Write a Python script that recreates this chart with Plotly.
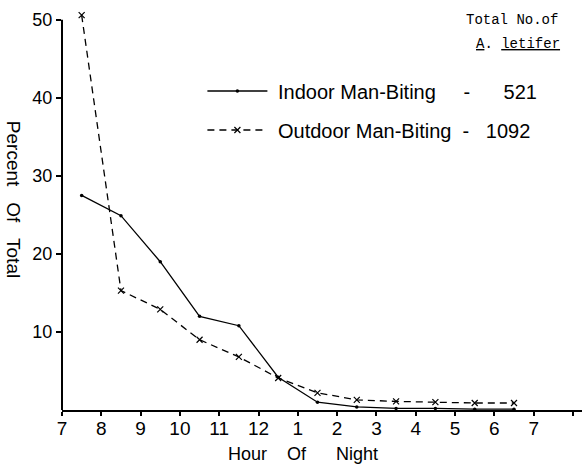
import plotly.graph_objects as go

# hours after 7 pm (half-hour midpoints)
hour_pos = [0.5, 1.5, 2.5, 3.5, 4.5, 5.5, 6.5, 7.5, 8.5, 9.5, 10.5, 11.5]
indoor = [27.5, 24.9, 19.0, 12.0, 10.8, 4.2, 1.0, 0.4, 0.2, 0.2, 0.1, 0.1]
outdoor = [50.6, 15.3, 12.9, 9.0, 6.8, 4.1, 2.2, 1.3, 1.1, 1.0, 0.9, 0.9]

tick_pos = list(range(14))
tick_text = ["7", "8", "9", "10", "11", "12", "1", "2", "3", "4", "5", "6", "7", ""]
y_ticks = [10, 20, 30, 40, 50]

NB = "\u00a0"
indoor_name = NB * 1 + "Indoor Man-Biting" + NB * 5 + "-" + NB * 6 + "521"
outdoor_name = NB * 1 + "Outdoor Man-Biting" + NB * 2 + "-" + NB * 3 + "1092"

FONT = "Liberation Sans"

fig = go.Figure()
fig.add_trace(go.Scatter(
    x=hour_pos, y=indoor, name=indoor_name, mode="lines+markers",
    line=dict(color="black", width=1.3, dash="solid"),
    marker=dict(symbol="circle", size=3.5, color="black"),
    cliponaxis=False, legend="legend",
))
fig.add_trace(go.Scatter(
    x=hour_pos, y=outdoor, name=outdoor_name, mode="lines+markers",
    line=dict(color="black", width=1.3, dash="7px,5px"),
    marker=dict(symbol="x-thin", size=6, color="black", line=dict(width=1.2, color="black")),
    cliponaxis=False, legend="legend2",
))

fig.update_layout(
    width=582, height=464,
    margin=dict(l=62, r=0, t=12, b=54),
    paper_bgcolor="white", plot_bgcolor="white",
    font=dict(family=FONT, size=18, color="black"),
    xaxis=dict(
        range=[0, 13.23], tickvals=tick_pos, ticktext=tick_text,
        showgrid=False, zeroline=False, showline=True, linecolor="black", linewidth=2,
        ticks="outside", ticklen=4, tickwidth=1.5, tickcolor="black",
        ticklabelstandoff=-4,
        tickfont=dict(family=FONT, size=19),
    ),
    yaxis=dict(
        range=[0, 51], tickvals=y_ticks,
        showgrid=False, zeroline=False, showline=False,
        ticks="outside", ticklen=5, tickwidth=1.5, tickcolor="black",
        tickfont=dict(family=FONT, size=18),
    ),
    legend=dict(x=0.27, y=0.8015, xanchor="left", yanchor="middle", bgcolor="rgba(0,0,0,0)",
                itemwidth=60, font=dict(family=FONT, size=20)),
    legend2=dict(x=0.27, y=0.7035, xanchor="left", yanchor="middle", bgcolor="rgba(0,0,0,0)",
                 itemwidth=60, font=dict(family=FONT, size=20)),
    showlegend=True,
)

# y axis line (stops at 50, like the original)
fig.add_shape(type="line", xref="paper", yref="y", x0=0, x1=0, y0=0, y1=50,
              line=dict(color="black", width=2))

fig.add_annotation(text="Percent" + NB * 3 + "Of" + NB * 3 + "Total", textangle=90,
                   xref="paper", yref="paper",
                   x=-0.092, y=(410 - 199) / 398, xanchor="center", yanchor="middle",
                   showarrow=False, font=dict(family=FONT, size=19))
fig.add_annotation(text="Hour" + NB * 4 + "Of" + NB * 6 + "Night", xref="paper", yref="paper",
                   x=(303 - 62) / 520, y=-44 / 398, xanchor="center", yanchor="middle",
                   showarrow=False, font=dict(family=FONT, size=18))
fig.add_annotation(text="Total No.of", xref="paper", yref="paper", x=0.957, y=(410 - 20) / 398,
                   xanchor="right", yanchor="middle", showarrow=False,
                   font=dict(family="Liberation Mono", size=14))
fig.add_annotation(text="<u>A</u>. <u>letifer</u>", xref="paper", yref="paper",
                   x=0.962, y=(410 - 44) / 398,
                   xanchor="right", yanchor="middle", showarrow=False,
                   font=dict(family="Liberation Mono", size=14))

fig.write_html("out.html")
